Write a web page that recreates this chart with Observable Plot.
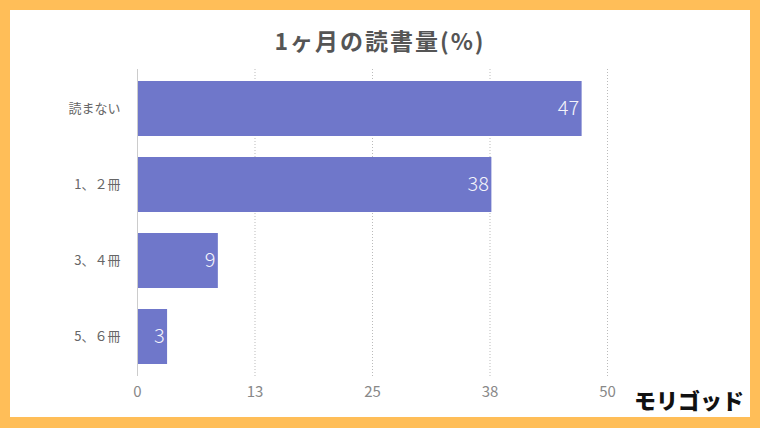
<!DOCTYPE html>
<html><head><meta charset="utf-8">
<script src="https://cdn.jsdelivr.net/npm/d3@7"></script>
<script src="https://cdn.jsdelivr.net/npm/@observablehq/plot@0.6"></script>
<style>
body{margin:0;}
#frame{position:relative;width:760px;height:428px;background:#FFBE58;overflow:hidden;font-family:"Noto Sans CJK JP","Noto Sans",sans-serif;}
#inner{position:absolute;left:10px;top:10px;width:740px;height:407px;background:#fff;}
#title{position:absolute;left:0;top:13px;width:740px;text-align:center;font-size:23px;font-weight:bold;color:#555;letter-spacing:2px;}
#chart{position:absolute;left:0;top:0;}
#mark{position:absolute;right:6px;bottom:2px;font-size:22px;font-weight:900;color:#111;}
</style></head>
<body>
<div id="frame"><div id="inner"><div id="chart"></div><div id="title">1ヶ月の読書量(%)</div><div id="mark">モリゴッド</div></div></div>
<script>
const categories = ["読まない", "1、２冊", "3、４冊", "5、６冊"];
const values = [47.3, 37.7, 8.6, 3.2];
const tickValues = [0, 12.5, 25, 37.5, 50];
const tickLabels = ["0", "13", "25", "38", "50"];

const data = categories.map((c, i) => ({cat: c, v: values[i]}));
const color = "#6F77CA";

const chart = Plot.plot({
  width: 740,
  height: 407,
  marginLeft: 127,
  marginRight: 143,
  marginTop: 59,
  marginBottom: 41,
  style: {fontFamily: '"Noto Sans CJK JP","Noto Sans",sans-serif', background: "transparent"},
  x: {domain: [0, 50], axis: null},
  y: {domain: categories, paddingInner: 0.28, paddingOuter: 0.14, axis: null},
  marks: [
    Plot.ruleX(tickValues.slice(1), {stroke: "#bbb", strokeDasharray: "1,2", strokeWidth: 1}),
    Plot.barX(data, {y: "cat", x: "v", fill: color}),
    Plot.ruleX([0], {stroke: "#ccc", strokeWidth: 1}),
    Plot.text(data, {y: "cat", x: "v", text: d => String(Math.round(d.v)), textAnchor: "end", dx: -3, fill: "#f4f4fb", fontSize: 20, fontWeight: 300}),
    Plot.axisY({label: null, tickSize: 0, tickPadding: 17, fontSize: 13, color: "#666"}),
    Plot.axisX({label: null, ticks: tickValues, tickFormat: (d, i) => tickLabels[i], tickSize: 0, tickPadding: 10, fontSize: 15, color: "#888"})
  ]
});
document.getElementById("chart").appendChild(chart);
</script>
</body></html>
